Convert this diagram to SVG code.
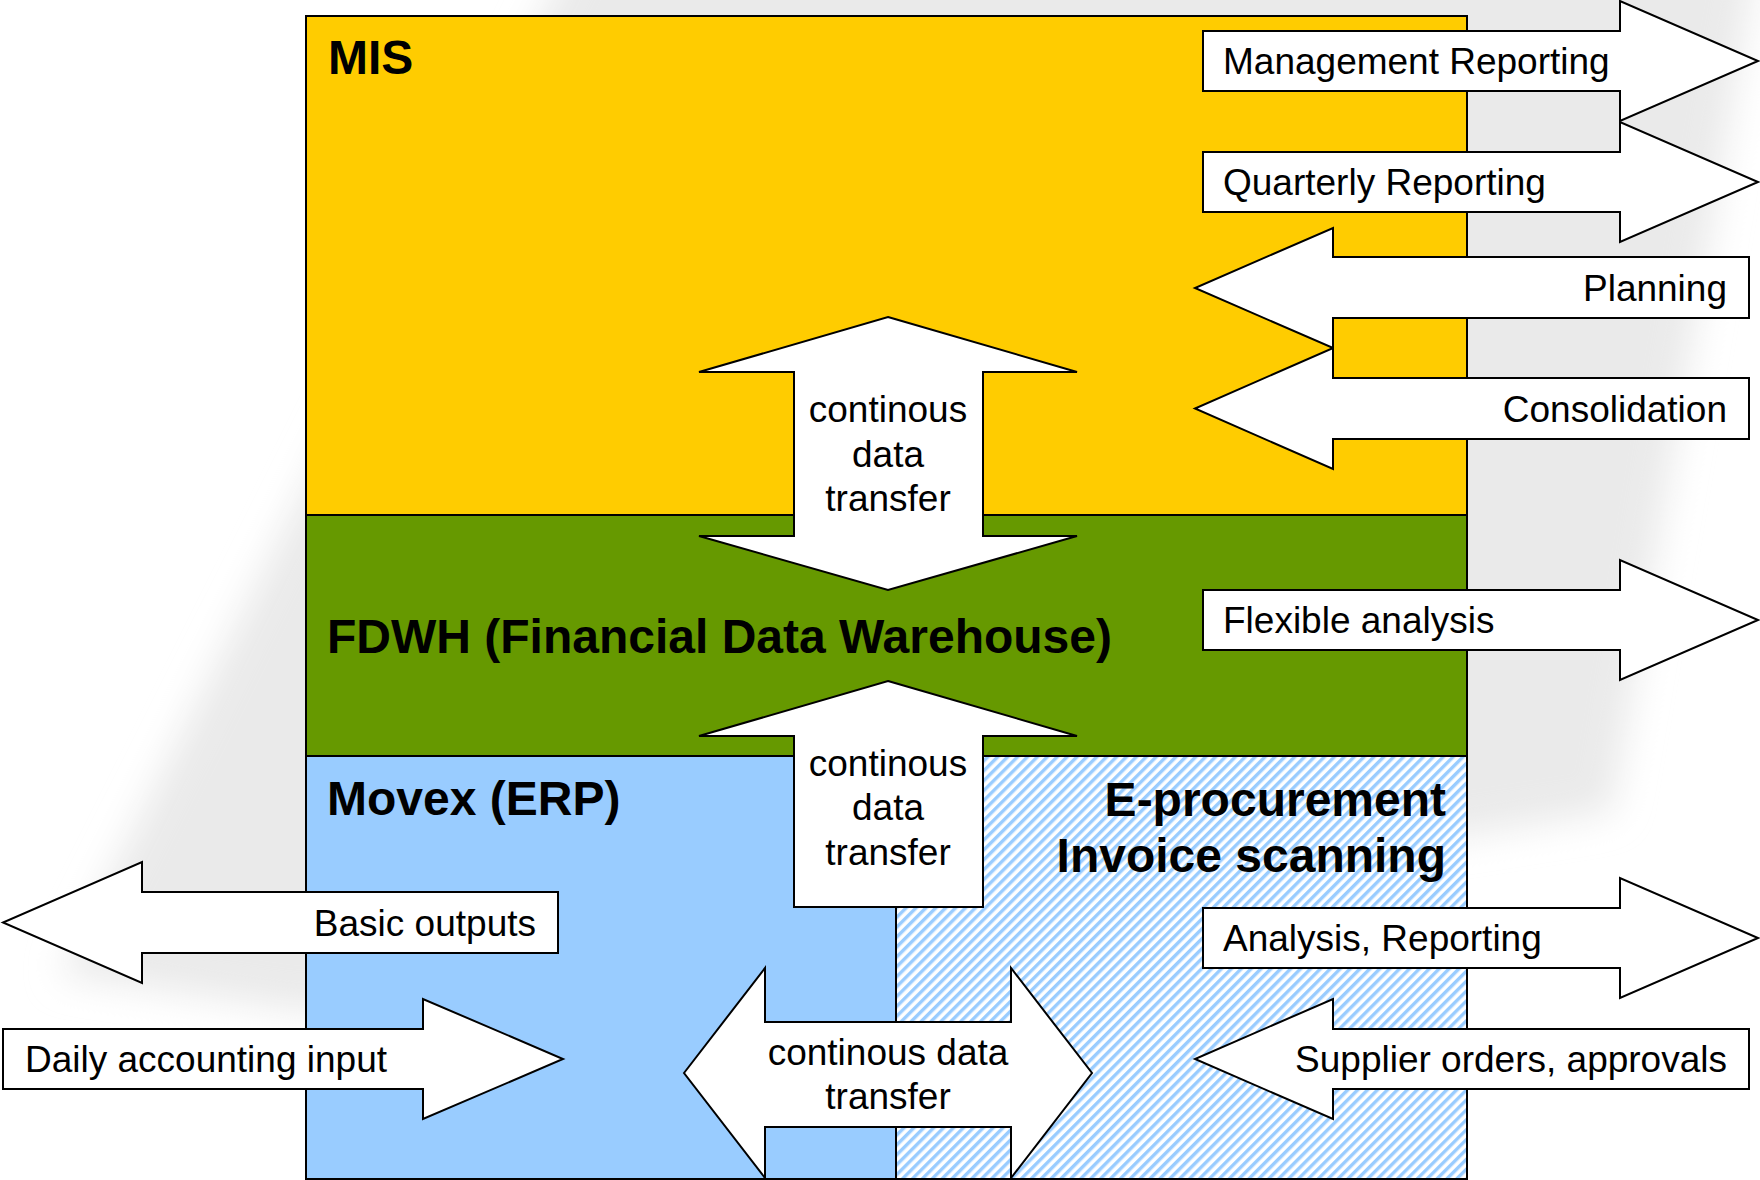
<svg xmlns="http://www.w3.org/2000/svg" width="1760" height="1180" viewBox="0 0 1760 1180">
<style>
.lbl{font-family:"Liberation Sans",Arial,sans-serif;font-size:37px;fill:#000}
.ttl{font-family:"Liberation Sans",Arial,sans-serif;font-size:48px;font-weight:bold;fill:#000}
.box{stroke:#000;stroke-width:2}
.arr{fill:#fff;stroke:#000;stroke-width:2;stroke-linejoin:miter}
</style>
<defs>
<pattern id="hatch" patternUnits="userSpaceOnUse" width="7" height="7" patternTransform="rotate(45)">
<rect x="0" y="0" width="7" height="7" fill="#fff"/>
<rect x="0" y="0" width="3.4" height="7" fill="#99ccff"/>
</pattern>
<filter id="blur" x="-20%" y="-20%" width="140%" height="140%">
<feGaussianBlur stdDeviation="18"/>
</filter>
</defs>
<rect width="1760" height="1180" fill="#fff"/>
<g id="shadow" filter="url(#blur)">
<polygon points="580,-60 1760,-60 1612,812 1467,835 310,1012 60,975" fill="#eaeaea"/>
</g>
<g id="mis">
<rect class="box" x="306" y="16" width="1161" height="499" fill="#ffcc00"/>
<text class="ttl" x="328" y="74">MIS</text>
</g>
<g id="fdwh">
<rect class="box" x="306" y="515" width="1161" height="241" fill="#669900"/>
<text class="ttl" x="327" y="653">FDWH (Financial Data Warehouse)</text>
</g>
<g id="movex">
<rect class="box" x="306" y="756" width="590" height="423" fill="#99ccff"/>
<text class="ttl" x="327" y="815">Movex (ERP)</text>
</g>
<g id="eproc">
<rect class="box" x="896" y="756" width="571" height="423" fill="url(#hatch)"/>
<text class="ttl" x="1446" y="816" text-anchor="end">E-procurement</text>
<text class="ttl" x="1446" y="872" text-anchor="end">Invoice scanning</text>
</g>
<g id="connectors">
<polygon class="arr" points="1203,31 1620,31 1620,1 1758,61 1620,121 1620,91 1203,91"/>
<text class="lbl" x="1223" y="74">Management Reporting</text>
<polygon class="arr" points="1203,152 1620,152 1620,122 1758,182 1620,242 1620,212 1203,212"/>
<text class="lbl" x="1223" y="195">Quarterly Reporting</text>
<polygon class="arr" points="1749,257 1333,257 1333,228 1195,288 1333,348 1333,318 1749,318"/>
<text class="lbl" x="1727" y="301" text-anchor="end">Planning</text>
<polygon class="arr" points="1749,378 1333,378 1333,348 1195,408.5 1333,469 1333,439 1749,439"/>
<text class="lbl" x="1727" y="422" text-anchor="end">Consolidation</text>
<polygon class="arr" points="1203,590 1620,590 1620,560 1758,620 1620,680 1620,650 1203,650"/>
<text class="lbl" x="1223" y="633">Flexible analysis</text>
<polygon class="arr" points="1203,908 1620,908 1620,878 1758,938 1620,998 1620,968 1203,968"/>
<text class="lbl" x="1223" y="951">Analysis, Reporting</text>
<polygon class="arr" points="1749,1029 1333,1029 1333,999 1195,1059 1333,1119 1333,1089 1749,1089"/>
<text class="lbl" x="1727" y="1072" text-anchor="end">Supplier orders, approvals</text>
<polygon class="arr" points="558,892 142,892 142,862 3,922.5 142,983 142,953 558,953"/>
<text class="lbl" x="536" y="936" text-anchor="end">Basic outputs</text>
<polygon class="arr" points="3,1029 423,1029 423,999 563,1059 423,1119 423,1089 3,1089"/>
<text class="lbl" x="25" y="1072">Daily accounting input</text>
<polygon class="arr" points="888,317 1077,372 983,372 983,536 1077,536 888,590 699,536 794,536 794,372 699,372"/>
<text class="lbl" x="888" y="422" text-anchor="middle">continous</text>
<text class="lbl" x="888" y="467" text-anchor="middle">data</text>
<text class="lbl" x="888" y="511" text-anchor="middle">transfer</text>
<polygon class="arr" points="888,681 1077,736 983,736 983,907 794,907 794,736 699,736"/>
<text class="lbl" x="888" y="776" text-anchor="middle">continous</text>
<text class="lbl" x="888" y="820" text-anchor="middle">data</text>
<text class="lbl" x="888" y="865" text-anchor="middle">transfer</text>
<polygon class="arr" points="684,1073 765,968 765,1022 1011,1022 1011,968 1092,1073 1011,1178 1011,1127 765,1127 765,1178"/>
<text class="lbl" x="888" y="1065" text-anchor="middle">continous data</text>
<text class="lbl" x="888" y="1109" text-anchor="middle">transfer</text>
</g>
</svg>
